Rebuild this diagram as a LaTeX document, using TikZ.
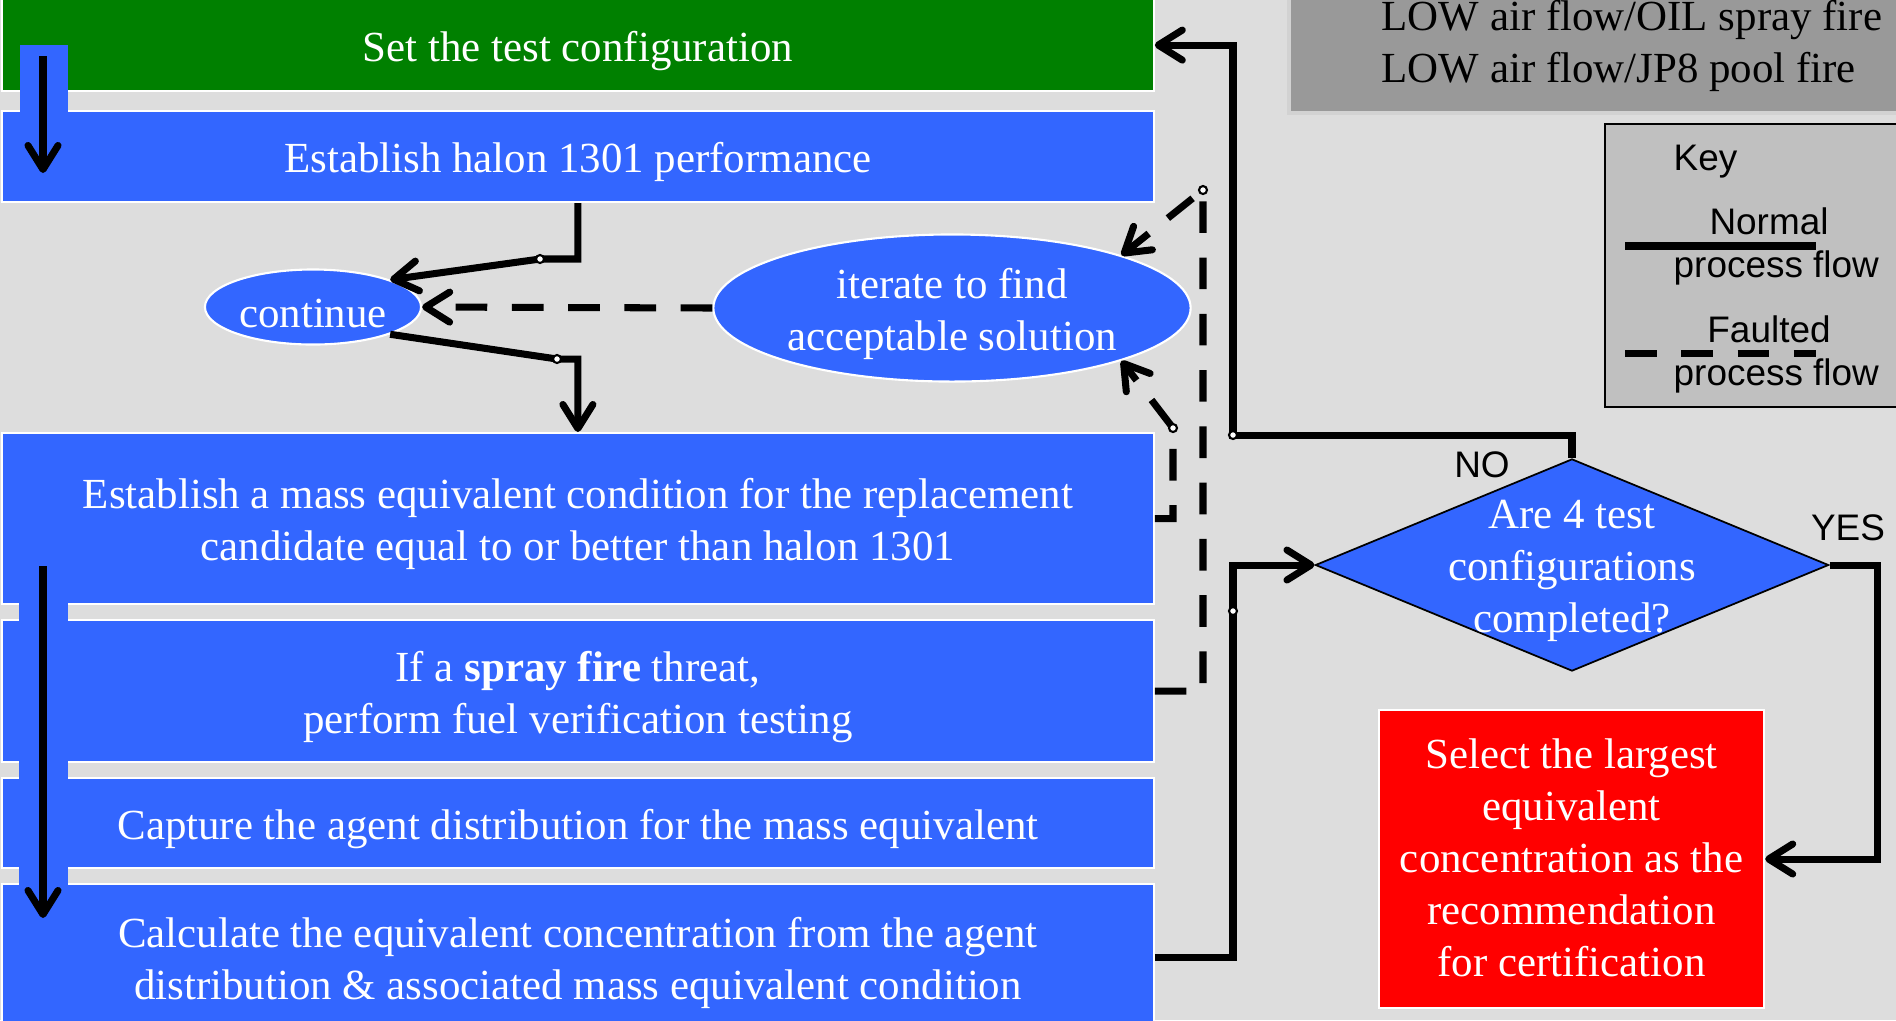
\documentclass[tikz,border=0pt]{standalone}
\usepackage{fontspec}
\setmainfont{Liberation Serif}
\setsansfont{Liberation Sans}
\usepackage{tikz}
\usetikzlibrary{shapes.geometric,arrows.meta}
\definecolor{flowblue}{HTML}{3366FF}
\definecolor{cfggreen}{HTML}{008000}
\definecolor{panelgray}{HTML}{DDDDDD}
\definecolor{notegray}{HTML}{999999}
\definecolor{keygray}{HTML}{C0C0C0}
\newcommand{\procfont}{\fontsize{12.2}{14.8}\selectfont}
\newcommand{\toplift}{\rule{0pt}{11.8pt}}
\tikzset{
  procbox/.style = {rectangle, draw=white, line width=0.6pt, text=white, align=center, inner sep=0pt, font=\procfont, execute at begin node=\toplift},
  stepbox/.style = {procbox, fill=flowblue, anchor=north west, minimum width=11.51cm},
  oval/.style = {ellipse, draw=white, line width=0.6pt, fill=flowblue, text=white, align=center, inner sep=0pt, font=\procfont, execute at begin node=\toplift},
  decision/.style = {diamond, draw=black, line width=0.5pt, fill=flowblue, inner sep=0pt, minimum width=5.13cm, minimum height=2.12cm},
  flow/.style = {line width=2pt, -{Straight Barb[length=2.4mm,width=3mm,round]}},
  fault/.style = {flow, dash pattern=on 9pt off 7pt},
  junc/.style = {circle, draw=black, fill=white, line width=0.6pt, inner sep=0pt, minimum size=0.8mm},
  keytext/.style = {inner sep=0pt, font=\sffamily\fontsize{10.5}{12.6}\selectfont},
  strip/.style = {fill=flowblue},
}

\begin{document}
\begin{tikzpicture}[x=0.01cm, y=-0.01cm]
\fill[panelgray] (0,0) rectangle (1896,1020);
\useasboundingbox (0,0) rectangle (1896,1020);

% process column
\node [stepbox, fill=cfggreen, minimum height=0.92cm] (setcfg) at (1,-2) {Set the test configuration};
\node [stepbox, minimum height=0.91cm] (halon) at (1,110) {Establish halon 1301 performance};
\node [stepbox, minimum height=1.71cm] (mass) at (1,432) {\toplift Establish a mass equivalent condition for the replacement\\candidate equal to or better than halon 1301};
\node [stepbox, minimum height=1.42cm] (spray) at (1,619) {\toplift If a \textbf{spray fire} threat,\\perform fuel verification testing};
\node [stepbox, minimum height=0.90cm] (capture) at (1,777) {Capture the agent distribution for the mass equivalent};
\node [stepbox, minimum height=1.47cm] (calc) at (1,883) {\toplift Calculate the equivalent concentration from the agent\\distribution \& associated mass equivalent condition};

% down arrows on the left
\fill[strip] (20,45) rectangle (68,112);
\fill[strip] (19,598) rectangle (68,888);
\coordinate (downA) at (43,56);
\coordinate (downB) at (43,173);
\coordinate (downC) at (43,566);
\coordinate (downD) at (43,918);
\draw[flow] (downA) -- (downB);
\draw[flow] (downC) -- (downD);

\node [oval, minimum width=2.16cm, minimum height=0.75cm] (cont) at (313,307) {continue};
\node [oval, minimum width=4.77cm, minimum height=1.47cm] (iter) at (952,308) {\toplift iterate to find\\acceptable solution};

% decision and result
\node [decision] (dec) at (1572,565) {};
\node [procbox, draw=none] (decq) at (1572,564) {\toplift Are 4 test\\configurations\\completed?};
\node [procbox, fill=red, minimum width=3.85cm, minimum height=2.98cm] (select) at (1571.5,859) {\toplift Select the largest\\equivalent\\concentration as the\\recommendation\\for certification\rule[-4pt]{0pt}{0pt}};
\node [keytext] (no) at (1482,465) {NO};
\node [keytext] (yes) at (1848,528) {YES};

% test configurations
\filldraw[fill=notegray, draw=gray!35, line width=1pt] (1289,-5) rectangle (1900,113);
\node [anchor=west, align=left, inner sep=0pt, font=\procfont] (cfglist) at (1381,46) {LOW air flow/OIL spray fire\\LOW air flow/JP8 pool fire};

% key
\filldraw[fill=keygray, draw=black, line width=0.8pt] (1605,124) rectangle (1900,407);
\node [keytext, anchor=west] (keyhead) at (1673,162) {Key};
\node [keytext] (normal) at (1769,221) {Normal};
\draw[line width=2pt] (1625,246) -- (1816,246);
\node [keytext, anchor=west] (normalsub) at (1673,268) {process flow};
\node [keytext] (faulted) at (1769,329) {Faulted};
\draw[line width=2pt, dash pattern=on 9pt off 7pt] (1625,353) -- (1816,353);
\node [keytext, anchor=west] (faultsub) at (1673,376) {process flow};

% connectors
\coordinate (j1) at (540,259);
\coordinate (j2) at (557,359);
\coordinate (j3) at (1203,190);
\coordinate (j4) at (1173,428);
\coordinate (j5) at (1233,611);
\coordinate (j6) at (1233,435);
\draw[flow] (halon.south) |- (j1) -- (cont.north east);
\draw[flow] (cont.south east) -- (j2) -| (mass.north);
\draw[fault] (iter.west) -- (cont.east);
\draw[fault] (spray.east) -| (j3) -- (iter.north east);
\draw[fault] (mass.east) -| (j4) -- (iter.south east);
\draw[flow] (calc.east) -| (j5) |- (dec.west);
\draw[flow] (dec.north) |- (j6) |- (setcfg.east);
\draw[flow] (dec.east) -- ++(48,0) |- (select.east);
\foreach \j in {j1,j2,j3,j4,j5,j6}
  \node [junc] (\j o) at (\j) {};
\end{tikzpicture}
\end{document}
